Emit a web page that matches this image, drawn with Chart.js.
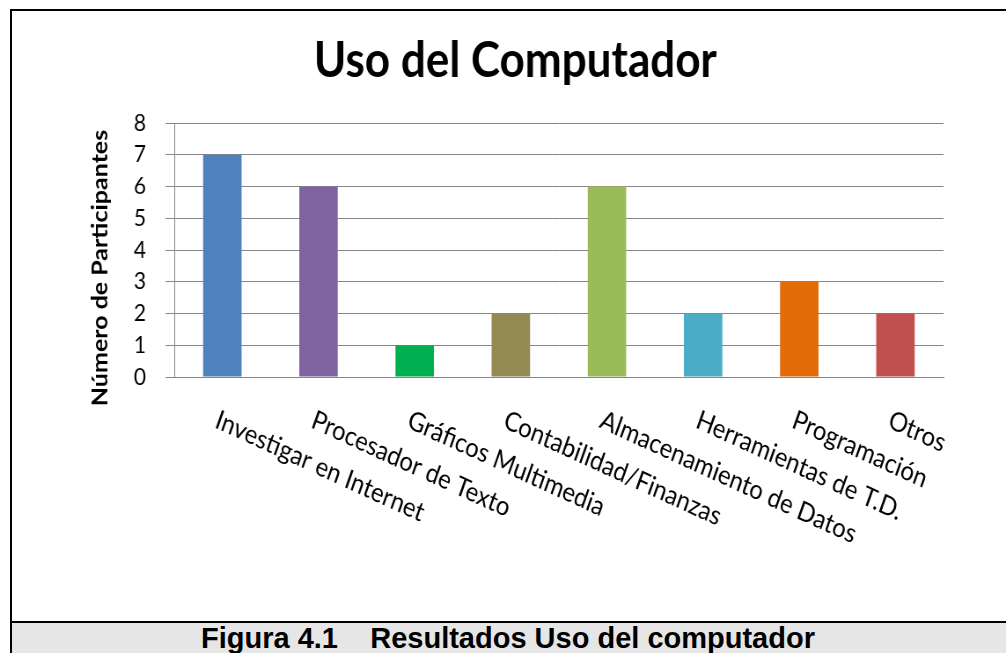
<!DOCTYPE html>
<html lang="es">
<head>
<meta charset="UTF-8">
<title>Uso del Computador</title>
<script src="https://cdn.jsdelivr.net/npm/chart.js"></script>
<style>
  html, body { margin: 0; padding: 0; background: #fff; overflow: hidden; }
  #marco {
    position: absolute; left: 10px; top: 9px; width: 1020px; height: 660px;
    border: 2px solid #000; box-sizing: border-box;
  }
  /* el grafico original esta algo comprimido en horizontal */
  #grafico { position: absolute; left: 0; top: 0; width: 1006px; height: 619px; }
  #pie {
    position: absolute; left: 12px; top: 621px; width: 1020px; height: 40px;
    border-top: 2px solid #000; background: #e6e6e6;
  }
  #pie span {
    position: absolute; top: -1px; left: 189px; white-space: pre;
    font: bold 29px "Liberation Sans", Arial, sans-serif; color: #000;
  }
</style>
</head>
<body>
<div id="marco"></div>
<canvas id="grafico" width="1143" height="619" style="width:1006px;height:619px"></canvas>
<div id="pie"><span>Figura 4.1    Resultados Uso del computador</span></div>

<script>
  const categorias = ['Investigar en Internet', 'Procesador de Texto', 'Gráficos Multimedia',
    'Contabilidad/Finanzas', 'Almacenamiento de Datos', 'Herramientas de T.D.', 'Programación', 'Otros'];
  const participantes = [7, 6, 1, 2, 6, 2, 3, 2];
  const colores = ['#4F81BD', '#8064A2', '#00B050', '#948A54', '#9BBB59', '#4BACC6', '#E36C09', '#C0504D'];
  const ticksY = [0, 1, 2, 3, 4, 5, 6, 7, 8];
  const tituloY = 'Número de Participantes';

  const fuente = 'Lato, "Open Sans", sans-serif';

  // etiquetas del eje x inclinadas hacia abajo (Chart.js solo las inclina al revés)
  // y titulo del eje y un poco por debajo del centro, como en el original
  const textosExtra = {
    id: 'textosExtra',
    afterDraw(chart) {
      const ctx = chart.ctx;
      const x = chart.scales.x;
      const base = chart.chartArea.bottom;
      ctx.save();
      ctx.fillStyle = '#000';
      ctx.font = '27px ' + fuente;
      ctx.textAlign = 'left';
      ctx.textBaseline = 'alphabetic';
      categorias.forEach((txt, i) => {
        ctx.save();
        ctx.translate(x.getPixelForTick(i) - 10, base + 50);
        ctx.rotate(22 * Math.PI / 180);
        ctx.fillText(txt, 0, 0);
        ctx.restore();
      });

      ctx.translate(chart.scales.y.left + 15, (chart.chartArea.top + base) / 2 + 18);
      ctx.rotate(-Math.PI / 2);
      ctx.font = 'bold 25px ' + fuente;
      ctx.textAlign = 'center';
      ctx.textBaseline = 'middle';
      ctx.fillText(tituloY, 0, 0);
      ctx.restore();
    }
  };

  new Chart(document.getElementById('grafico'), {
    type: 'bar',
    data: {
      labels: categorias,
      datasets: [{
        label: 'Participantes',
        data: participantes,
        backgroundColor: colores,
        barPercentage: 0.4,
        categoryPercentage: 1
      }]
    },
    options: {
      responsive: false,
      devicePixelRatio: 1,
      animation: false,
      layout: { padding: { left: 99, right: 71, top: 0, bottom: 0 } },
      plugins: {
        legend: { display: false },
        tooltip: { enabled: false },
        title: {
          display: true,
          text: 'Uso del Computador',
          color: '#000',
          font: { family: fuente, size: 50, weight: 'bold' },
          padding: { top: 31, bottom: 32 }
        }
      },
      scales: {
        x: {
          grid: { display: false },
          border: { color: '#868686', width: 1 },
          ticks: { display: false },
          afterFit(s) { s.height = 242; }
        },
        y: {
          min: 0, max: 8,
          afterBuildTicks(s) { s.ticks = ticksY.map(v => ({ value: v })); },
          afterFit(s) { s.width = 99; },
          grid: { color: '#868686', lineWidth: 1, tickLength: 10 },
          border: { color: '#868686', width: 1 },
          ticks: { color: '#000', padding: 22, autoSkip: false, font: { family: fuente, size: 24 } }
        }
      }
    },
    plugins: [textosExtra]
  });
</script>
</body>
</html>
